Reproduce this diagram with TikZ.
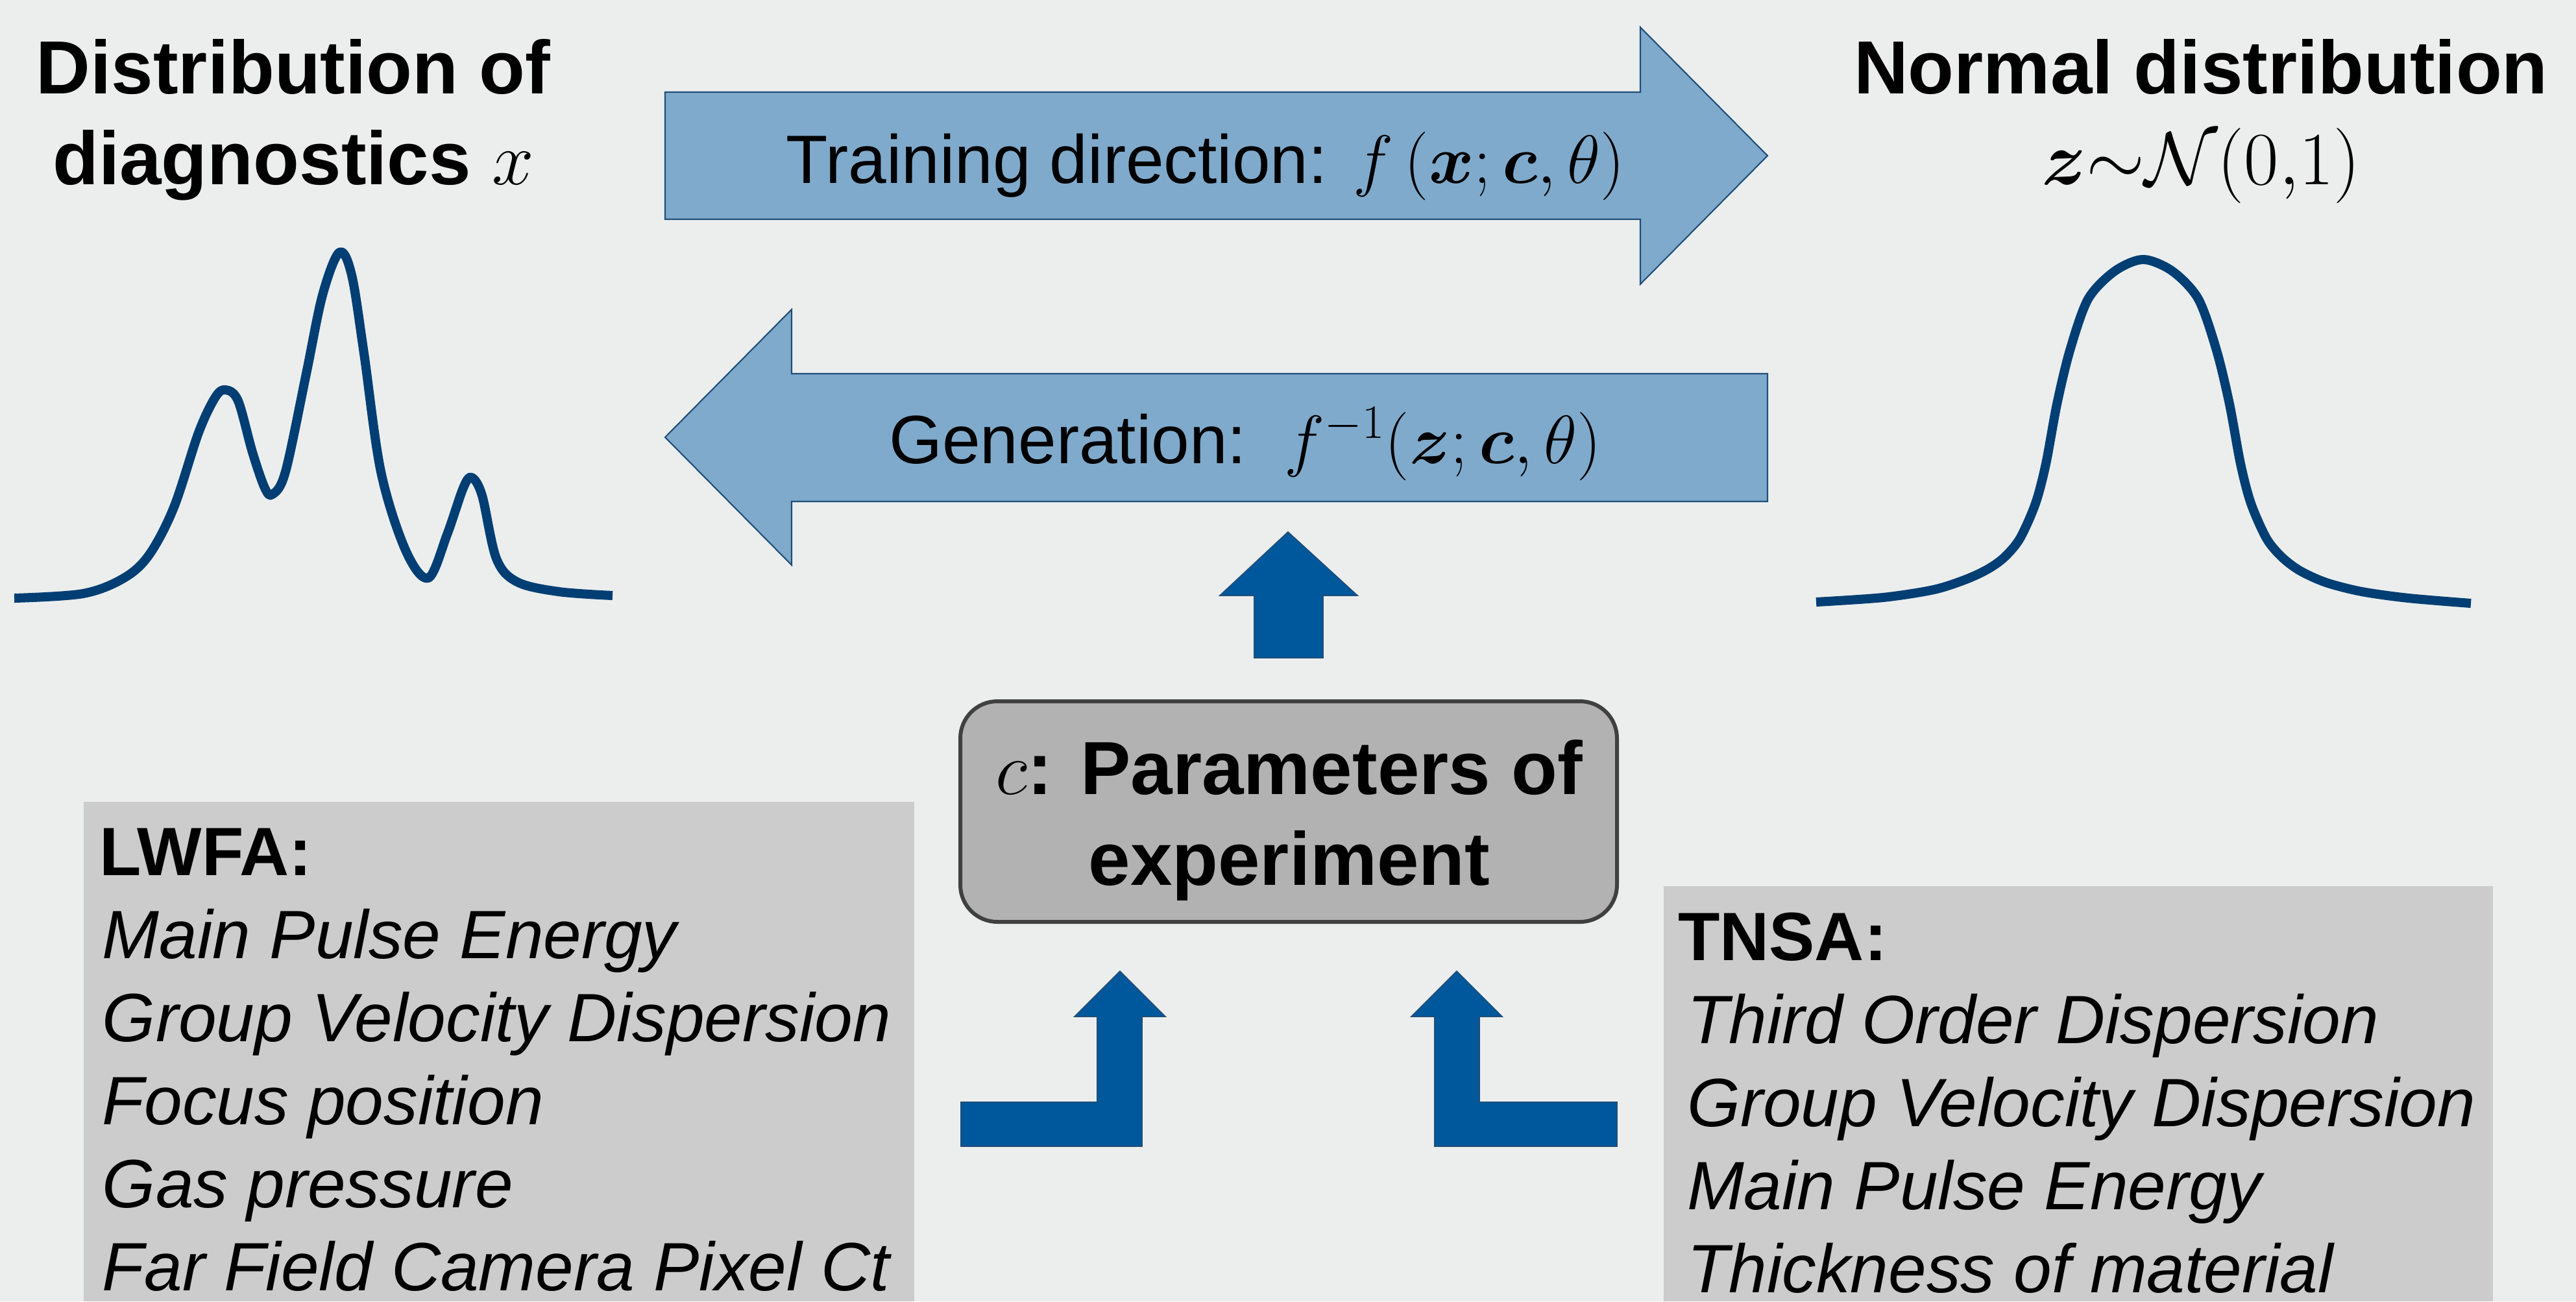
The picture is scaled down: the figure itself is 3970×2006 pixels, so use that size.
\RequirePackage{fix-cm}
\documentclass[tikz,border=0pt]{standalone}
\usepackage{amsmath}
\usepackage[no-math]{fontspec}
\setmainfont{Liberation Sans}

\definecolor{bgcol}{RGB}{236,238,237}
\definecolor{curveblue}{RGB}{0,62,116}
\definecolor{arrowlight}{RGB}{127,170,204}
\definecolor{arrowedge}{RGB}{31,78,121}
\definecolor{arrowdark}{RGB}{0,88,156}
\definecolor{boxgray}{RGB}{178,178,178}
\definecolor{boxedge}{RGB}{64,64,64}
\definecolor{listgray}{RGB}{204,204,204}

\tikzset{
  title/.style={font=\fontsize{33}{39.6}\selectfont\bfseries, align=center, anchor=base},
  arrowtxt/.style={font=\fontsize{30}{36}\selectfont, anchor=base},
  listhead/.style={font=\fontsize{30}{36}\selectfont\bfseries, anchor=base west},
  listitem/.style={font=\fontsize{30}{36}\selectfont\itshape, anchor=base west},
  curve/.style={draw=curveblue, line width=4pt, line join=round},
  bigarrow/.style={draw=arrowedge, fill=arrowlight, line width=0.6pt},
  smallarrow/.style={draw=arrowedge, fill=arrowdark, line width=0.5pt}
}

\begin{document}
\begin{tikzpicture}[x=0.1mm, y=-0.1mm, every node/.style={inner sep=0pt, outer sep=0pt}]
  \fill[bgcol] (0,0) rectangle (3970,2006);
  \useasboundingbox (0,0) rectangle (3970,2006);

  % titles (base = last line)
  \node[title] (lefttitle) at (452,284) {Distribution of\\diagnostics $x$};
  \node[title] (righttitle) at (3392,284) {Normal distribution\\\mdseries$\boldsymbol{z}{\sim}\mathcal{N}(0{,}1)$};

  % distributions
  \draw[curve] plot[smooth, tension=0.55] coordinates {(22,922) (128,915) (191,891) (230,855) (268,782)
    (306,667) (332,612) (348,601) (367,618) (389,697) (408,752) (420,762) (440,727) (472,576)
    (497,455) (523,389) (542,424) (561,545) (587,727) (625,848) (660,891) (689,824) (714,752)
    (727,736) (743,764) (765,861) (797,897) (861,912) (944,918)};
  \draw[curve] plot[smooth, tension=0.5] coordinates {(2799,928) (2902,921) (2980,909) (3030,893)
    (3064,877) (3089,859) (3113,830) (3137,776) (3153,715) (3170,623) (3190,540) (3218,461)
    (3259,418) (3303,400) (3348,418) (3388,461) (3416,540) (3436,623) (3453,715) (3469,776)
    (3493,830) (3517,859) (3545,880) (3585,898) (3640,912) (3712,922) (3808,930)};

  % flow arrows
  \draw[bigarrow] (1025,142) -- (2528,142) -- (2528,42) -- (2724,240) -- (2528,438) -- (2528,338) -- (1025,338) -- cycle;
  \draw[bigarrow] (2724,576) -- (1220,576) -- (1220,477) -- (1025,674) -- (1220,871) -- (1220,773) -- (2724,773) -- cycle;
  \node[arrowtxt] (train) at (1858,282) {Training direction: $f\,(\boldsymbol{x};\boldsymbol{c},\theta)$};
  \node[arrowtxt] (gen) at (1919,714) {Generation:\ \ $f^{-1}(\boldsymbol{z};\boldsymbol{c},\theta)$};

  % parameters
  \node[draw=boxedge, fill=boxgray, line width=1.7pt, rounded corners=5.7mm, minimum width=101.2mm,
    minimum height=34mm] (param) at (1986,1251) {};
  \node[title] (paramtxt) at (1987,1364) {$c$: Parameters of\\experiment};
  \draw[smallarrow] (1933,1014) -- (1933,918) -- (1880,918) -- (1985,820) -- (2092,918) -- (2039,918) -- (2039,1014) -- cycle;
  \draw[smallarrow] (1481,1699) -- (1691,1699) -- (1691,1567) -- (1656,1567) -- (1726,1497) -- (1796,1567)
    -- (1760,1567) -- (1760,1767) -- (1481,1767) -- cycle;
  \draw[smallarrow] (2492,1699) -- (2280,1699) -- (2280,1567) -- (2315,1567) -- (2245,1497) -- (2175,1567)
    -- (2211,1567) -- (2211,1767) -- (2492,1767) -- cycle;

  % experiment lists
  \fill[listgray] (129,1236) rectangle (1409,2006);
  \fill[listgray] (2564,1366) rectangle (3842,2006);
  \node[listhead] (lwfa) at (153,1349) {LWFA:};
  \foreach \y/\txt [count=\i] in {1477/Main Pulse Energy, 1605/Group Velocity Dispersion,
    1733/Focus position, 1861/Gas pressure, 1989/Far Field Camera Pixel Ct}
    \node[listitem] (lwfa\i) at (158,\y) {\txt};
  \node[listhead] (tnsa) at (2586,1480) {TNSA:};
  \foreach \y/\txt [count=\i] in {1608/Third Order Dispersion, 1736/Group Velocity Dispersion,
    1864/Main Pulse Energy, 1992/Thickness of material}
    \node[listitem] (tnsa\i) at (2600,\y) {\txt};
\end{tikzpicture}
\end{document}
